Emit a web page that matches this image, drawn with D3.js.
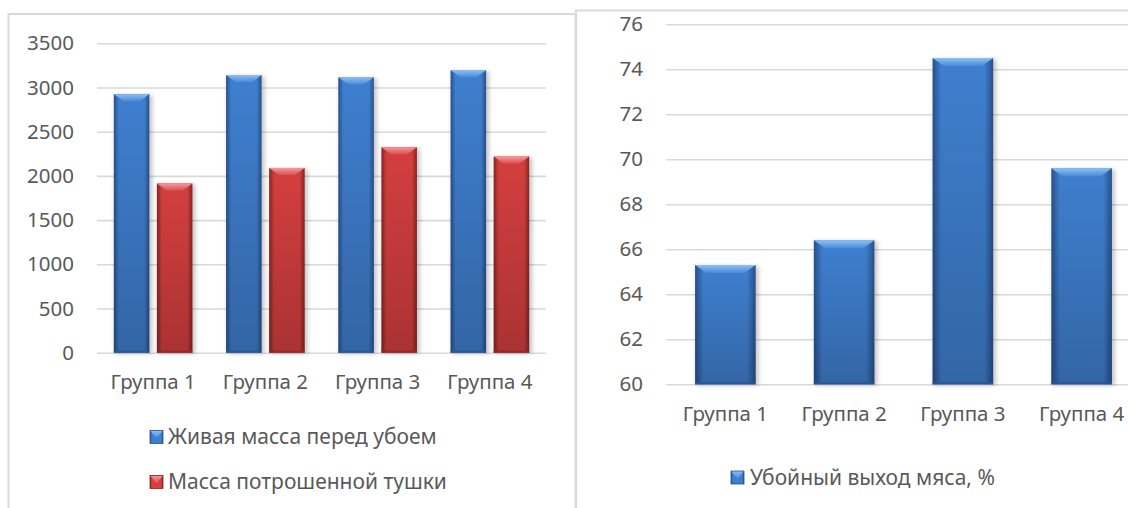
<!DOCTYPE html>
<html>
<head>
<meta charset="utf-8">
<script src="https://cdn.jsdelivr.net/npm/d3@7"></script>
<style>
  body { margin: 0; background: #fff; }
  text { font-family: "Noto Sans", sans-serif; fill: #595959; }
</style>
</head>
<body>
<div id="container"></div>
<script>
const w = 1128;
const h = 508;

// data
const groups = ['Группа 1', 'Группа 2', 'Группа 3', 'Группа 4'];
const seriesNames = ['Живая масса перед убоем', 'Масса потрошенной тушки'];
const liveWeight = [2925, 3140, 3115, 3195];
const carcassWeight = [1915, 2090, 2325, 2220];
const massTicks = [0, 500, 1000, 1500, 2000, 2500, 3000, 3500];
const yieldName = 'Убойный выход мяса, %';
const meatYield = [65.3, 66.4, 74.5, 69.6];
const yieldTicks = [60, 62, 64, 66, 68, 70, 72, 74, 76];

const svg = d3.select('#container')
  .append('svg')
  .attr('width', w)
  .attr('height', h)
  .attr('viewBox', [0, 0, w, h]);

const defs = svg.append('defs');

// bevel gradients, excel style
const colours = {
  blue: { edge: '#27508a', mid: '#3f7fcf', top1: '#8cc0f5', top2: '#4a8ad8', bottom: '#2a5692' },
  red: { edge: '#8a2222', mid: '#d43f3f', top1: '#f59a9a', top2: '#dc5050', bottom: '#922828' }
};

Object.entries(colours).forEach(([k, c]) => {
  const body = defs.append('linearGradient').attr('id', k + '-body')
    .attr('x1', 0).attr('x2', 1).attr('y1', 0).attr('y2', 0);
  body.append('stop').attr('offset', '0%').attr('stop-color', c.edge);
  body.append('stop').attr('offset', '14%').attr('stop-color', c.mid);
  body.append('stop').attr('offset', '86%').attr('stop-color', c.mid);
  body.append('stop').attr('offset', '100%').attr('stop-color', c.edge);

  const shade = defs.append('linearGradient').attr('id', k + '-shade')
    .attr('x1', 0).attr('x2', 0).attr('y1', 0).attr('y2', 1);
  shade.append('stop').attr('offset', '0%').attr('stop-color', '#000').attr('stop-opacity', 0);
  shade.append('stop').attr('offset', '100%').attr('stop-color', '#000').attr('stop-opacity', 0.2);

  const top = defs.append('linearGradient').attr('id', k + '-top')
    .attr('x1', 0).attr('x2', 0).attr('y1', 0).attr('y2', 1);
  top.append('stop').attr('offset', '0%').attr('stop-color', c.top1);
  top.append('stop').attr('offset', '100%').attr('stop-color', c.top2);
});

defs.append('filter').attr('id', 'shadow')
  .attr('x', '-20%').attr('y', '-5%').attr('width', '140%').attr('height', '110%')
  .append('feGaussianBlur').attr('stdDeviation', 2);

function bevelBar(g, x, y, bw, bh, key, b) {
  g.append('rect')
    .attr('x', x + 1).attr('y', y + 1)
    .attr('width', bw + 2).attr('height', bh)
    .attr('fill', '#000').attr('opacity', 0.22)
    .attr('filter', 'url(#shadow)');
  g.append('rect')
    .attr('x', x).attr('y', y).attr('width', bw).attr('height', bh)
    .attr('fill', 'url(#' + key + '-body)');
  g.append('rect')
    .attr('x', x).attr('y', y).attr('width', bw).attr('height', bh)
    .attr('fill', 'url(#' + key + '-shade)');
  g.append('polygon')
    .attr('points', [[x, y], [x + bw, y], [x + bw - b * 1.4, y + b], [x + b * 1.4, y + b]].join(' '))
    .attr('fill', 'url(#' + key + '-top)');
  g.append('rect')
    .attr('x', x).attr('y', y + bh - 2).attr('width', bw).attr('height', 2)
    .attr('fill', colours[key].bottom);
}

function legendMarker(g, x, y, s, key) {
  g.append('rect').attr('x', x).attr('y', y).attr('width', s).attr('height', s)
    .attr('fill', 'url(#' + key + '-body)');
  g.append('polygon')
    .attr('points', [[x, y], [x + s, y], [x + s / 2, y + s * 0.6]].join(' '))
    .attr('fill', 'url(#' + key + '-top)');
  g.append('rect').attr('x', x).attr('y', y).attr('width', s).attr('height', s)
    .attr('fill', 'none').attr('stroke', colours[key].edge).attr('stroke-width', 0.8);
}

const styleText = g => g.selectAll('text')
  .attr('font-size', 20.5)
  .attr('fill', '#595959')
  .attr('font-family', '"Noto Sans", sans-serif');

// chart frames
svg.append('rect')
  .attr('x', 8.5).attr('y', 14).attr('width', 567).attr('height', 520)
  .attr('fill', '#fff').attr('stroke', '#d9d9d9').attr('stroke-width', 2);
svg.append('rect')
  .attr('x', 576).attr('y', 10.5).attr('width', 600).attr('height', 520)
  .attr('fill', '#fff').attr('stroke', '#d9d9d9').attr('stroke-width', 2);

// ---- left chart ----
const left = svg.append('g');

const x0 = d3.scaleBand()
  .domain(groups)
  .range([97, 546])
  .paddingInner(0.3)
  .paddingOuter(0.15);

const x1 = d3.scaleBand()
  .domain(seriesNames)
  .range([0, x0.bandwidth()])
  .paddingInner(0.176);

const y0 = d3.scaleLinear()
  .domain([0, 3500])
  .range([352.7, 43.3]);

left.append('g')
  .attr('transform', 'translate(97,0)')
  .call(d3.axisLeft(y0).tickValues(massTicks).tickFormat(d3.format('d'))
    .tickSize(-(546 - 97)).tickPadding(23))
  .call(g => g.select('.domain').remove())
  .call(g => g.selectAll('line').attr('stroke', '#d9d9d9').attr('stroke-width', 1.6))
  .call(styleText);

const massSeries = [liveWeight, carcassWeight];
const massKeys = ['blue', 'red'];

groups.forEach((grp, i) => {
  massSeries.forEach((vals, j) => {
    const bx = x0(grp) + x1(seriesNames[j]);
    bevelBar(left, bx, y0(vals[i]), x1.bandwidth(), y0(0) - y0(vals[i]), massKeys[j], 7);
  });
});

left.append('g')
  .attr('transform', 'translate(0,' + y0(0) + ')')
  .call(d3.axisBottom(x0).tickSize(0).tickPadding(22))
  .call(g => g.select('.domain').remove())
  .call(styleText);

const leftLegend = left.append('g');
seriesNames.forEach((name, j) => {
  const ly = 437 + j * 45;
  legendMarker(leftLegend, 150, ly - 6.5, 13, massKeys[j]);
  leftLegend.append('text')
    .attr('x', 168).attr('y', ly)
    .attr('dy', '0.35em')
    .attr('font-size', 21)
    .text(name);
});

// ---- right chart ----
const right = svg.append('g');

const xr = d3.scaleBand()
  .domain(groups)
  .range([666, 1141])
  .paddingInner(0.49)
  .paddingOuter(0.245);

const yr = d3.scaleLinear()
  .domain([60, 76])
  .range([384.3, 24.3]);

right.append('g')
  .attr('transform', 'translate(666,0)')
  .call(d3.axisLeft(yr).tickValues(yieldTicks).tickSize(-(1141 - 666)).tickPadding(23))
  .call(g => g.select('.domain').remove())
  .call(g => g.selectAll('line').attr('stroke', '#d9d9d9').attr('stroke-width', 1.6))
  .call(styleText);

groups.forEach((grp, i) => {
  bevelBar(right, xr(grp), yr(meatYield[i]), xr.bandwidth(), yr(60) - yr(meatYield[i]), 'blue', 8);
});

right.append('g')
  .attr('transform', 'translate(0,' + yr(60) + ')')
  .call(d3.axisBottom(xr).tickSize(0).tickPadding(22))
  .call(g => g.select('.domain').remove())
  .call(styleText);

legendMarker(right, 731, 471, 13, 'blue');
right.append('text')
  .attr('x', 750).attr('y', 477.5)
  .attr('dy', '0.35em')
  .attr('font-size', 21)
  .text(yieldName);
</script>
</body>
</html>
